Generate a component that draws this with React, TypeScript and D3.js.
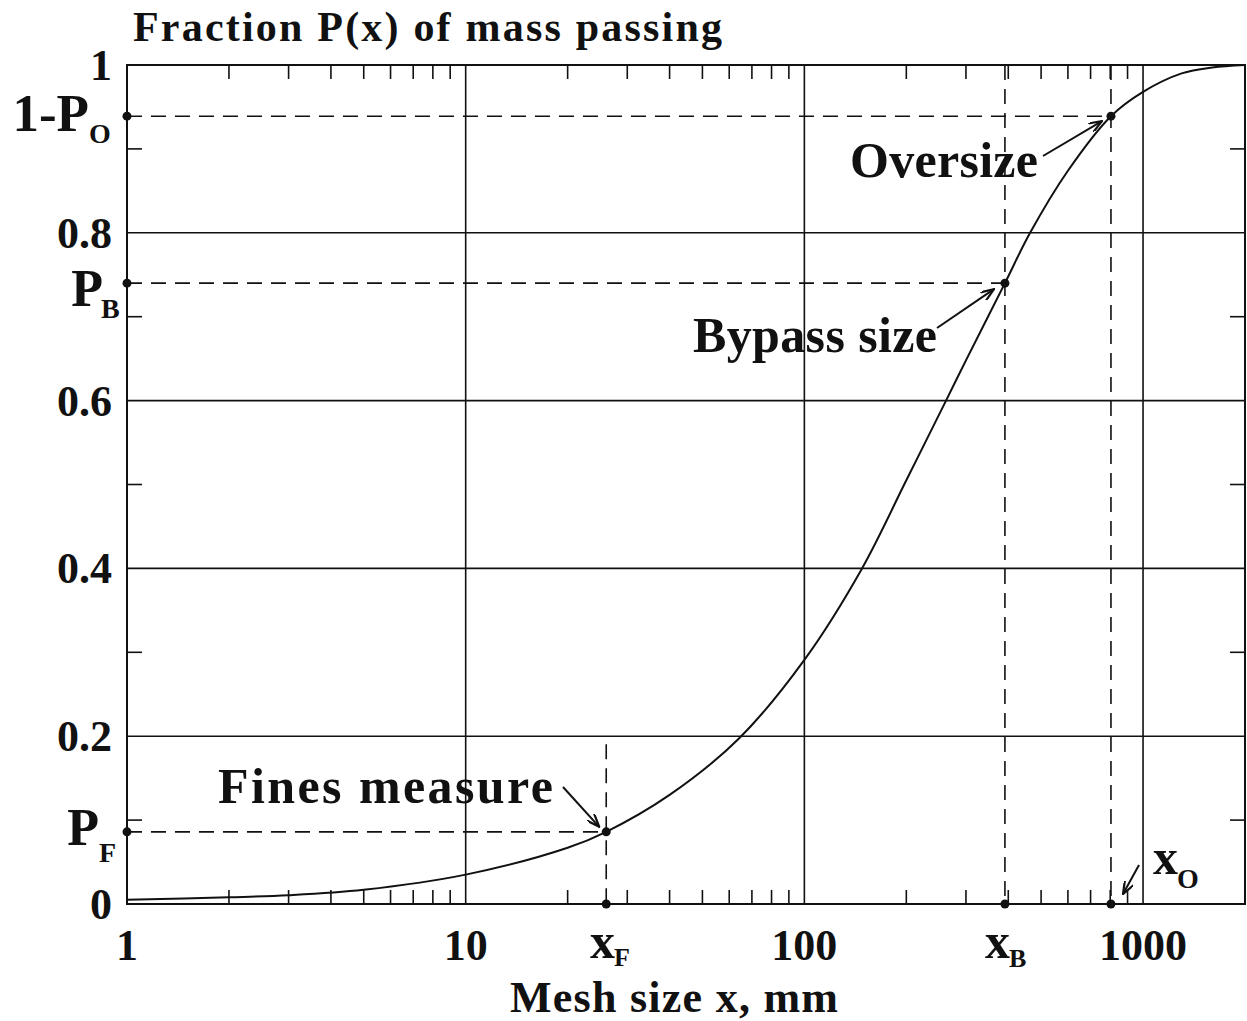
import * as d3 from 'd3'

// mesh size (mm) and fraction passing
const meshSizes = [1, 2, 3, 5, 10, 20, 26, 40, 64, 100, 148, 200, 262, 300, 391, 464, 600, 804, 1000, 1300, 1600, 2000]
const passing = [0.005, 0.008, 0.0105, 0.017, 0.035, 0.067, 0.086, 0.13, 0.197, 0.291, 0.4, 0.505, 0.6, 0.648, 0.74, 0.8, 0.874, 0.939, 0.968, 0.99, 0.997, 1.0]

// the three marked points: fines, bypass, oversize
const markSizes = [26, 391, 804]
const markPassing = [0.086, 0.74, 0.939]

const majorX = [1, 10, 100, 1000]
const majorXLabels = ['1', '10', '100', '1000']
const gridX = [10, 100, 1000]
const yTicks = [0, 0.2, 0.4, 0.6, 0.8, 1]
const yTickLabels = ['0', '0.2', '0.4', '0.6', '0.8', '1']
const gridY = [0.2, 0.4, 0.6, 0.8]
const minorY = [0.1, 0.3, 0.5, 0.7, 0.9]
const minorX = [1, 10, 100].flatMap(d => [2, 3, 4, 5, 6, 7, 8, 9].map(m => m * d))

const W = 1247
const H = 1021
const margin = { top: 65, right: 2, bottom: 117, left: 127 }
const FONT = '"Liberation Serif", "Times New Roman", serif'

export default function App() {
  const x = d3.scaleLog().domain([1, 2000]).range([margin.left, W - margin.right])
  const y = d3.scaleLinear().domain([0, 1]).range([H - margin.bottom, margin.top])
  const x0 = x.range()[0]
  const x1 = x.range()[1]
  const y0 = y.range()[0]
  const y1 = y.range()[1]

  const line = d3.line<number>()
    .x((_, i) => x(meshSizes[i]))
    .y(d => y(d))
    .curve(d3.curveCatmullRom.alpha(0.5))

  const dash = '15,9'
  const [xF, xB, xO] = markSizes.map(v => x(v))
  const [pF, pB, pO] = markPassing.map(v => y(v))

  const dots: [number, number][] = [
    [x0, pF], [x0, pB], [x0, pO],
    [xF, pF], [xB, pB], [xO, pO],
    [xF, y0], [xB, y0], [xO, y0]
  ]

  const bold = { fontFamily: FONT, fontWeight: 'bold' as const, fill: '#111' }

  return (
    <svg width={W} height={H} style={{ position: 'absolute', left: 0, top: 0, background: '#fff' }}>
      <defs>
        <marker id="arr" viewBox="0 0 14 10" refX="13" refY="5" markerWidth="14" markerHeight="10" markerUnits="userSpaceOnUse" orient="auto">
          <path d="M0,0 L13,5 L0,10" fill="none" stroke="#111" strokeWidth="2.2" />
        </marker>
      </defs>

      {/* grid */}
      {gridX.map(v => (
        <line key={'gx' + v} x1={x(v)} x2={x(v)} y1={y0} y2={y1} stroke="#111" strokeWidth={1.6} />
      ))}
      {gridY.map(v => (
        <line key={'gy' + v} x1={x0} x2={x1} y1={y(v)} y2={y(v)} stroke="#111" strokeWidth={1.6} />
      ))}

      {/* minor ticks */}
      {minorX.map(v => (
        <g key={'mx' + v} stroke="#111" strokeWidth={1.6}>
          <line x1={x(v)} x2={x(v)} y1={y0} y2={y0 - 14} />
          <line x1={x(v)} x2={x(v)} y1={y1} y2={y1 + 14} />
        </g>
      ))}
      {minorY.map(v => (
        <g key={'my' + v} stroke="#111" strokeWidth={1.6}>
          <line x1={x0} x2={x0 + 15} y1={y(v)} y2={y(v)} />
          <line x1={x1} x2={x1 - 15} y1={y(v)} y2={y(v)} />
        </g>
      ))}

      {/* dashed guides */}
      <g stroke="#111" strokeWidth={1.6} strokeDasharray={dash} fill="none">
        <line x1={x0} x2={xF} y1={pF} y2={pF} />
        <line x1={x0} x2={xB} y1={pB} y2={pB} />
        <line x1={x0} x2={xO} y1={pO} y2={pO} />
        <line x1={xF} x2={xF} y1={y(0.2) + 8} y2={y0} />
        <line x1={xB} x2={xB} y1={y1} y2={y0} />
        <line x1={xO} x2={xO} y1={y1} y2={y0} />
      </g>

      {/* frame */}
      <rect x={x0} y={y1} width={x1 - x0} height={y0 - y1} fill="none" stroke="#111" strokeWidth={2} />

      {/* curve */}
      <path d={line(passing) || ''} fill="none" stroke="#111" strokeWidth={2} />

      {dots.map(([cx, cy], i) => (
        <circle key={'d' + i} cx={cx} cy={cy} r={4.5} fill="#111" />
      ))}

      {/* arrows */}
      <g stroke="#111" strokeWidth={2} markerEnd="url(#arr)">
        <line x1={1043} y1={156} x2={xO - 9} y2={pO + 5} />
        <line x1={937} y1={328} x2={xB - 11} y2={pB + 6} />
        <line x1={563} y1={787} x2={xF - 7} y2={pF - 5} />
        <line x1={1139} y1={865} x2={1123} y2={894} />
      </g>

      {/* title */}
      <text x={133} y={41} fontSize={42} textLength={589} lengthAdjust="spacing" {...bold}>Fraction P(x) of mass passing</text>

      {/* y tick labels */}
      {yTicks.map((v, i) => (
        <text key={'yl' + v} x={112} y={y(v) + 15} fontSize={44} textAnchor="end" {...bold}>{yTickLabels[i]}</text>
      ))}

      {/* x tick labels */}
      {majorX.map((v, i) => (
        <text key={'xl' + v} x={x(v)} y={960} fontSize={44} textAnchor="middle" {...bold}>{majorXLabels[i]}</text>
      ))}

      {/* special y labels */}
      <text x={89} y={131} fontSize={53} textAnchor="end" {...bold}>1-P</text>
      <text x={89} y={143} fontSize={28} {...bold}>O</text>
      <text x={103} y={306} fontSize={52} textAnchor="end" {...bold}>P</text>
      <text x={101} y={318} fontSize={28} {...bold}>B</text>
      <text x={99} y={845} fontSize={52} textAnchor="end" {...bold}>P</text>
      <text x={99} y={862} fontSize={28} {...bold}>F</text>

      {/* special x labels */}
      <text x={615} y={958} fontSize={50} textAnchor="end" {...bold}>x</text>
      <text x={614} y={966} fontSize={26} {...bold}>F</text>
      <text x={1010} y={958} fontSize={50} textAnchor="end" {...bold}>x</text>
      <text x={1009} y={967} fontSize={26} {...bold}>B</text>
      <text x={1178} y={874} fontSize={50} textAnchor="end" {...bold}>x</text>
      <text x={1177} y={888} fontSize={28} {...bold}>O</text>

      {/* annotations */}
      <text x={850} y={177} fontSize={50} textLength={188} lengthAdjust="spacing" {...bold}>Oversize</text>
      <text x={693} y={352} fontSize={50} textLength={244} lengthAdjust="spacing" {...bold}>Bypass size</text>
      <text x={218} y={803} fontSize={50} textLength={335} lengthAdjust="spacing" {...bold}>Fines measure</text>

      {/* x axis title */}
      <text x={510} y={1012} fontSize={44} textLength={328} lengthAdjust="spacing" {...bold}>Mesh size x, mm</text>
    </svg>
  )
}
